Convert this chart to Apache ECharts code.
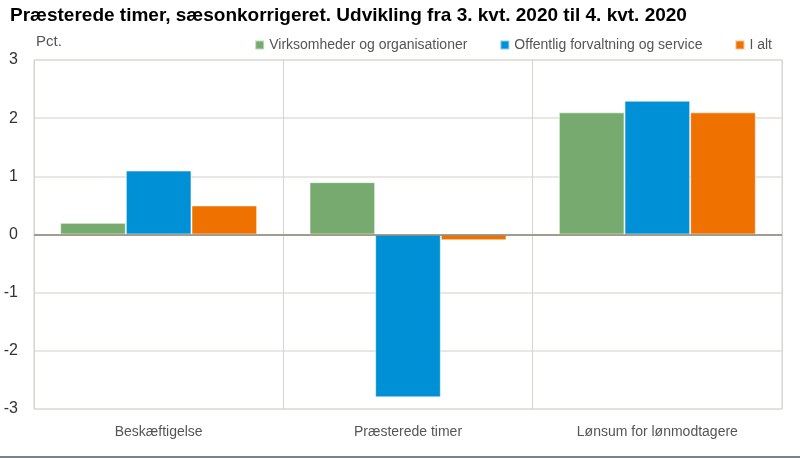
<!DOCTYPE html>
<html lang="da">
<head>
    <meta charset="UTF-8">
    <title>Præsterede timer</title>
    <script src="https://cdn.jsdelivr.net/npm/echarts@6/dist/echarts.min.js"></script>
    <style>
        html, body { margin: 0; padding: 0; background: #fff; }
        #wrap { width: 800px; height: 456px; border-bottom: 2px solid #77848a; }
        #main { width: 800px; height: 456px; }
    </style>
</head>
<body>
<div id="wrap">
    <div id="main"></div>
</div>

<script type="text/javascript">
    // data
    var categories = ['Beskæftigelse', 'Præsterede timer', 'Lønsum for lønmodtagere'];
    var seriesNames = ['Virksomheder og organisationer', 'Offentlig forvaltning og service', 'I alt'];
    var virksomheder = [0.2, 0.9, 2.1];
    var offentlig = [1.1, -2.8, 2.3];
    var iAlt = [0.5, -0.1, 2.1];
    var colors = ['#77aa6f', '#0090d5', '#ef7100'];

    var myChart = echarts.init(document.getElementById('main'));

    function bar(name, data, color) {
        return {
            name: name,
            type: 'bar',
            data: data,
            barGap: '0%',
            barCategoryGap: '21%',
            itemStyle: {color: color, borderColor: 'rgba(255,255,255,0.55)', borderWidth: 1}
        };
    }

    var series = [
        bar(seriesNames[0], virksomheder, colors[0]),
        bar(seriesNames[1], offentlig, colors[1]),
        bar(seriesNames[2], iAlt, colors[2])
    ];
    // zero line
    series[0].markLine = {
        silent: true,
        symbol: 'none',
        label: {show: false},
        lineStyle: {color: '#8a8573', width: 1.5, type: 'solid'},
        data: [{yAxis: 0}]
    };

    var option = {
        animation: false,
        title: {
            text: 'Præsterede timer, sæsonkorrigeret. Udvikling fra 3. kvt. 2020 til 4. kvt. 2020',
            left: 5,
            top: 1,
            textStyle: {fontFamily: 'Liberation Sans', fontSize: 19, fontWeight: 'bold', color: '#000'}
        },
        legend: {
            right: 23,
            top: 33,
            itemWidth: 9,
            itemHeight: 9,
            itemGap: 32,
            icon: 'rect',
            textStyle: {fontFamily: 'Liberation Sans', fontSize: 14, color: '#555'},
            data: seriesNames
        },
        grid: {
            left: 34, right: 18, top: 60, bottom: 47,
            show: true, borderColor: '#d6d5cc', borderWidth: 1
        },
        xAxis: {
            type: 'category',
            data: categories,
            axisLine: {show: false, onZero: false},
            axisTick: {show: false},
            splitLine: {show: true, lineStyle: {color: '#d6d5cc'}},
            axisLabel: {margin: 16, fontFamily: 'Liberation Sans', fontSize: 14, color: '#555'}
        },
        yAxis: {
            type: 'value',
            min: -3,
            max: 3,
            interval: 1,
            name: 'Pct.',
            nameLocation: 'end',
            nameGap: 11,
            nameTextStyle: {align: 'left', fontFamily: 'Liberation Sans', fontSize: 15, color: '#555', padding: [0, 0, 0, 2]},
            axisLine: {show: false},
            axisTick: {show: false},
            splitLine: {lineStyle: {color: '#e0dfd7', width: 1.5}},
            axisLabel: {margin: 16, fontFamily: 'Liberation Sans', fontSize: 16, color: '#333'}
        },
        series: series
    };

    myChart.setOption(option);
</script>

</body>
</html>
